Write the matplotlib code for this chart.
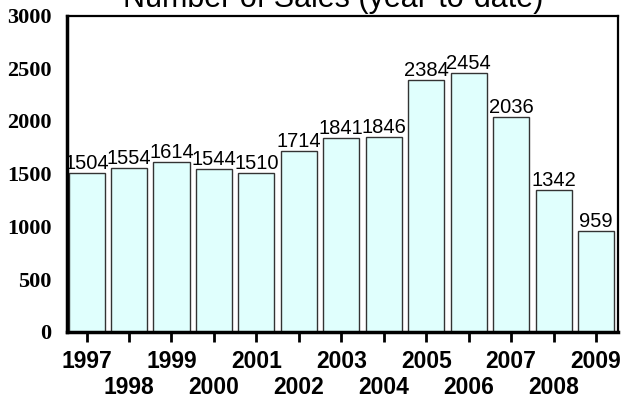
import matplotlib
matplotlib.use("Agg")
import matplotlib.pyplot as plt

# year-to-date sales per year
anos = ["1997", "1998", "1999", "2000", "2001", "2002", "2003",
        "2004", "2005", "2006", "2007", "2008", "2009"]
vendas = [1504, 1554, 1614, 1544, 1510, 1714, 1841,
          1846, 2384, 2454, 2036, 1342, 959]
y_ticks = [0, 500, 1000, 1500, 2000, 2500, 3000]

fig = plt.figure(figsize=(6.24, 3.98), dpi=100)
ax = fig.add_axes([0.1074, 0.166, 0.8826, 0.795])

pos = list(range(len(anos)))
ax.bar(pos, vendas, width=0.85, color="#e0fffd", edgecolor="#333333", linewidth=1.0)

# value labels above the bars
for x, v in zip(pos, vendas):
    ax.text(x, v, str(v), ha="center", va="bottom",
            family="Liberation Sans", fontsize=14.5)

ax.set_xlim(-0.46, len(anos) - 0.49)
ax.set_ylim(0, 3000)
ax.set_yticks(y_ticks)
ax.set_yticklabels([str(t) for t in y_ticks], family="Liberation Serif",
                   fontweight="bold", fontsize=16)
ax.tick_params(axis="y", length=0, pad=11)

ax.set_xticks(pos)
ax.set_xticklabels(anos, family="Liberation Sans", fontweight="bold", fontsize=16.5)
ax.tick_params(axis="x", direction="out", length=7, width=2, pad=6)
# alternate the year labels on two rows
for i, tick in enumerate(ax.xaxis.get_major_ticks()):
    if i % 2 == 1:
        tick.set_pad(25)

ax.spines["left"].set_linewidth(2.5)
ax.spines["bottom"].set_linewidth(2.5)
ax.spines["top"].set_linewidth(1.6)
ax.spines["right"].set_linewidth(1.6)

fig.text(0.534, 1 - 7 / 398, "Number of Sales (year-to-date)", ha="center",
         va="baseline", family="Liberation Sans", fontsize=22)

fig.savefig("out.png", dpi=100)
